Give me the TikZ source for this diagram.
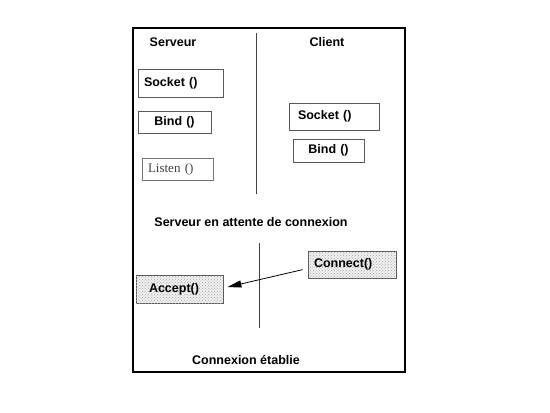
\documentclass[tikz,border=0pt]{standalone}
\usepackage{fontspec}
\setmainfont{Liberation Sans}
\newfontfamily\serifff{Liberation Serif}
\usetikzlibrary{patterns,arrows.meta}
\begin{document}
\begin{tikzpicture}[x=1pt,y=-1pt,
  lbl/.style={font=\fontsize{12.5}{14}\selectfont\bfseries, inner sep=0pt},
  fbox/.style={draw=black!65, line width=1pt, font=\fontsize{12.5}{14}\selectfont\bfseries, inner ysep=0pt},
  dotbox/.style={fbox, fill=gray!12, postaction={pattern=crosshatch dots, pattern color=gray!70}},
  vline/.style={draw=black!75, line width=1pt}]
\useasboundingbox (0,0) rectangle (550,413);
\draw[line width=1.4pt] (133,28) rectangle (405,372);
\node[lbl] (serveur) at (173,42) {Serveur};
\node[lbl] (client) at (327,42) {Client};
\coordinate (v1t) at (256,33); \coordinate (v1b) at (256,194);
\draw[vline] (v1t) -- (v1b);
\node[fbox, text width=73pt, inner xsep=6pt, align=left, minimum height=28pt] (ssock) at (180.5,83) {Socket ()};
\node[fbox, text width=61pt, inner xsep=6pt, align=center, minimum height=22pt] (sbind) at (174.5,122) {Bind ()};
\node[fbox, draw=black!55, text width=59pt, inner xsep=6pt, align=left, minimum height=22pt, font=\serifff\fontsize{13}{14}\selectfont, text=black!75] (slisten) at (177.5,169) {Listen ()};
\node[fbox, text width=72pt, inner xsep=9pt, align=left, minimum height=27pt] (csock) at (334,116.5) {Socket ()};
\node[fbox, text width=59pt, inner xsep=6pt, align=center, minimum height=23pt] (cbind) at (328.5,150.5) {Bind ()};
\node[lbl] (attente) at (251,222) {Serveur en attente de connexion};
\coordinate (v2t) at (259,243); \coordinate (v2b) at (259,328);
\draw[vline] (v2t) -- (v2b);
\node[dotbox, text width=76pt, inner xsep=6pt, align=left, minimum height=27pt] (connect) at (352,264.5) {Connect()};
\node[dotbox, text width=61pt, inner xsep=13pt, align=left, minimum height=28pt] (accept) at (179.5,289) {Accept()};
\draw[line width=0.8pt, -{Triangle[length=14pt,width=7pt]}, shorten <=5pt, shorten >=4pt]
  ([yshift=-4pt]connect.west) -- ([yshift=1pt]accept.east);
\node[lbl] (etablie) at (246,360) {Connexion établie};
\end{tikzpicture}
\end{document}
